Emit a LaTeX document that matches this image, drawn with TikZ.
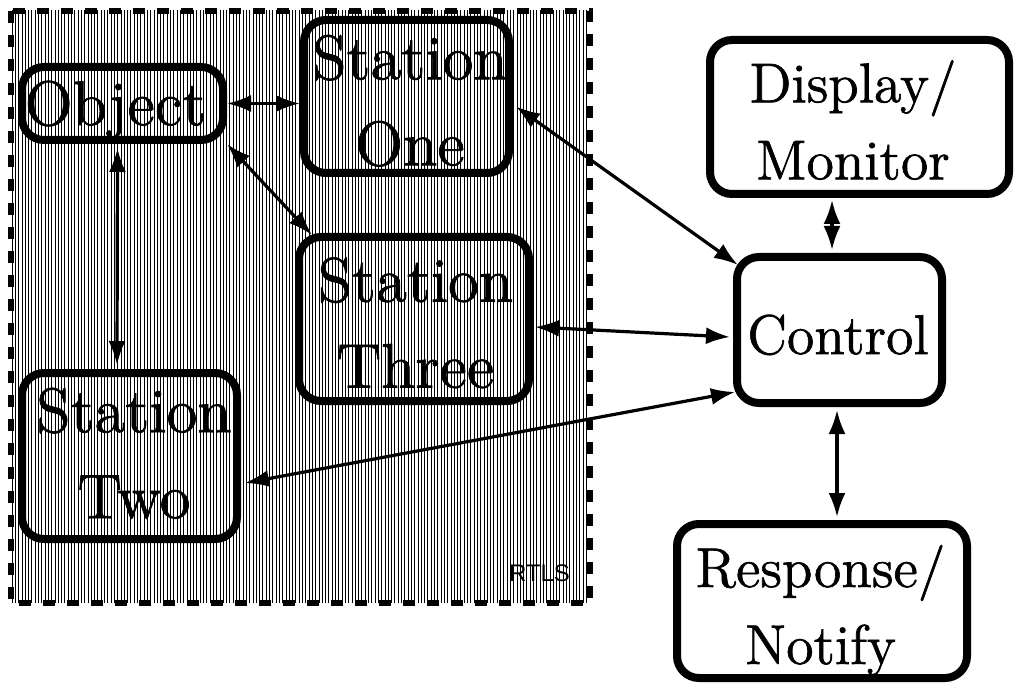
\documentclass[tikz,border=0pt]{standalone}
\usepackage{fontspec}
\newfontfamily\rtlsfont{Liberation Sans}
\newfontfamily\boxfont[FakeBold=1.2]{lmroman12-regular.otf}
\usetikzlibrary{arrows.meta,calc}
\begin{document}
\begin{tikzpicture}[x=1pt,y=-1pt,
  box/.style={draw, line width=8pt, rounded corners=22pt, inner sep=0pt},
  lbl/.style={align=center, inner sep=0pt, font=\boxfont\fontsize{63}{86}\selectfont},
  rlbl/.style={align=center, inner sep=0pt, font=\boxfont\fontsize{56}{77}\selectfont},
  link/.style={line width=3.2pt, {Latex[length=24pt,width=17pt]}-{Latex[length=24pt,width=17pt]}},
  hatch/.style={line width=0.7pt},
  frame/.style={line width=5.5pt, dash pattern=on 12pt off 12pt}
]
\useasboundingbox (0,0) rectangle (1021,687);
% hatched RTLS area
\foreach \i in {0,...,174} { \draw[hatch] ({12+3.3*\i},10) -- ({12+3.3*\i},603); }
\draw[frame] (11,11) rectangle (590,603);
% boxes
\node[box, minimum width=201pt, minimum height=73pt] (obj) at (122.5,103.5) {};
\node[box, minimum width=205pt, minimum height=153pt] (s1) at (406.5,96.5) {};
\node[box, minimum width=230pt, minimum height=164pt] (s3) at (414,319) {};
\node[box, minimum width=215pt, minimum height=166pt] (s2) at (129.5,456) {};
\node[box, minimum width=299pt, minimum height=154pt] (disp) at (859.5,117) {};
\node[box, minimum width=205pt, minimum height=146pt] (ctrl) at (839.5,330) {};
\node[box, minimum width=290pt, minimum height=154pt] (resp) at (822,601) {};
% connectors
\draw[link] (obj.east) -- (obj.east -| s1.west);
\draw[link] (obj.south east) -- ($(s3.north west)+(17,2)$);
\draw[link] ($(obj.south)+(-5,4)$) -- ($(s2.north)+(-12.5,-4)$);
\draw[link] ($(s1.east)+(3,10)$) -- ($(ctrl.north west)+(5,12)$);
\draw[link] ($(s3.east)+(2,8)$) -- ($(ctrl.west)+(-3,7)$);
\draw[link] ($(s2.east)+(4,27)$) -- ($(ctrl.south west)+(2,-15)$);
\draw[link] ($(disp.south)+(-27.5,2)$) -- ($(ctrl.north)+(-7.5,-3)$);
\draw[link] ($(ctrl.south)+(-2.5,3)$) -- ($(resp.north)+(15,-3)$);
% texts
\node[lbl] (tobj) at (115.5,109.3) {Object};
\node[lbl] (ts1) at (410,100.8) {Station\\One};
\node[lbl] (ts3) at (415.5,322.8) {Station\\Three};
\node[lbl] (ts2) at (134,453.3) {Station\\Two};
\node[rlbl] (tdisp) at (853,120.1) {Display/\\Monitor};
\node[rlbl] (tctrl) at (838,334.9) {Control};
\node[rlbl] (tresp) at (820.5,610.2) {Response/\\Notify};
\node[font=\rtlsfont\fontsize{24}{28}\selectfont, anchor=base, inner sep=0pt] (rtls) at (539.5,581) {RTLS};
\end{tikzpicture}
\end{document}
